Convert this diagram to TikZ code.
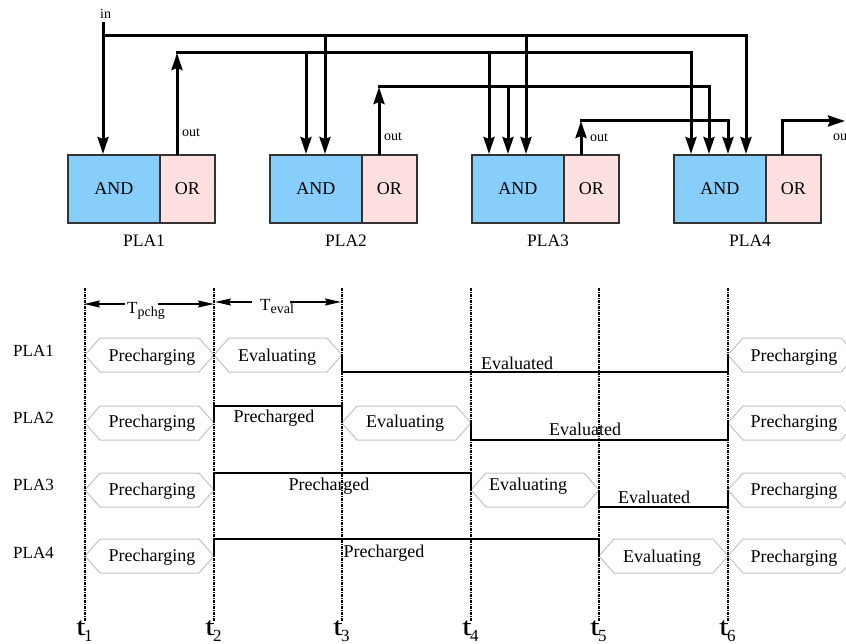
\documentclass[tikz,border=0pt]{standalone}
\usepackage{fontspec}
\setmainfont{Liberation Serif}
\usepackage{graphicx}
\usetikzlibrary{arrows.meta,calc}
\definecolor{andc}{HTML}{87CEFA}
\definecolor{orc}{HTML}{FFE0E0}
\definecolor{edgec}{HTML}{333333}
\definecolor{hexc}{HTML}{C4C4C4}
\newcommand\fs[1]{\fontsize{#1}{#1}\selectfont}
\newcommand\hexseg[3]{\draw[hexa] (#1,#3) -- ({#1+15},{#3-17}) -- ({#2-15},{#3-17}) -- (#2,#3) -- ({#2-15},{#3+17}) -- ({#1+15},{#3+17}) -- cycle;}
\begin{document}
\begin{tikzpicture}[x=1pt,y=-1pt,
 wire/.style={line width=3pt, line join=miter, line cap=rect},
 arr/.style={-{Stealth[length=17pt,width=11pt,inset=2pt]}},
 tarr/.style={-{Stealth[length=16pt,width=7pt,inset=2pt]}},
 blk/.style={draw=edgec, line width=1.6pt, minimum height=68pt, inner sep=0pt, anchor=north west, font=\fs{18}},
 andb/.style={blk, fill=andc, minimum width=92pt},
 orb/.style={blk, fill=orc, minimum width=55pt},
 plab/.style={font=\fs{17.5}, inner sep=0pt, anchor=base},
 rowlab/.style={font=\fs{17}, inner sep=0pt, anchor=base west},
 small/.style={font=\fs{14}, inner sep=0pt, anchor=base west},
 tx/.style={font=\fs{18}, inner sep=0pt, anchor=base},
 tline/.style={line width=1.3pt},
 grid/.style={line width=1.1pt, dash pattern=on 3pt off 1pt on 1pt off 1pt},
 hexa/.style={draw=hexc, line width=1pt, fill=white},
 tbig/.style={font=\fs{26}, inner sep=0pt, anchor=base east},
 tsub/.style={font=\fs{17}, inner sep=0pt, anchor=base west},
]
\useasboundingbox (0,0) rectangle (846,644);
% ---------- PLA blocks ----------
\node[andb] (and1) at (67,154) {AND};
\node[orb]  (or1)  at (159,154) {OR};
\node[andb] (and2) at (269,154) {AND};
\node[orb]  (or2)  at (361,154) {OR};
\node[andb] (and3) at (471,154) {AND};
\node[orb]  (or3)  at (563,154) {OR};
\node[andb] (and4) at (673,154) {AND};
\node[orb]  (or4)  at (765,154) {OR};
\node[plab] (pl1) at (144,247) {PLA1};
\node[plab] (pl2) at (346,247) {PLA2};
\node[plab] (pl3) at (548,247) {PLA3};
\node[plab] (pl4) at (750,247) {PLA4};
% ---------- wiring ----------
\node[small] (inl) at (100,19) {in};
\coordinate (inT) at (103,24);
\coordinate (inC) at (103,36);
\draw[wire,arr] (inT) -- ([xshift=36pt]and1.north west);
\draw[wire,arr] (inC) -| ([xshift=73pt]and4.north west);
\draw[wire,arr] (325,36) -- ([xshift=56pt]and2.north west);
\draw[wire,arr] (526,36) -- ([xshift=55pt]and3.north west);
% out1
\coordinate (c1) at (177,53);
\draw[wire,arr] ([xshift=18pt]or1.north west) -- (c1);
\draw[wire,arr] (c1) -| ([xshift=18pt]and4.north west);
\draw[wire,arr] (306,53) -- ([xshift=37pt]and2.north west);
\draw[wire,arr] (489,53) -- ([xshift=18pt]and3.north west);
% out2
\coordinate (c2) at (379,87);
\draw[wire,arr] ([xshift=18pt]or2.north west) -- (c2);
\draw[wire,arr] (c2) -| ([xshift=36pt]and4.north west);
\draw[wire,arr] (508,87) -- ([xshift=37pt]and3.north west);
% out3
\coordinate (c3) at (581,121);
\draw[wire,arr] ([xshift=18pt]or3.north west) -- (c3);
\draw[wire,arr] (c3) -| ([xshift=55pt]and4.north west);
% out4
\coordinate (c4) at (845,121);
\draw[wire,arr] ([xshift=17pt]or4.north west) |- (c4);
\node[small] (o1) at (182,137) {out};
\node[small] (o2) at (384,141) {out};
\node[small] (o3) at (590,142) {out};
\node[small] (o4) at (833,141) {out};
% ---------- timing: hexagons ----------
\hexseg{85}{214}{355}
\hexseg{214}{342}{355}
\hexseg{728}{856}{355}
\hexseg{85}{214}{423}
\hexseg{342}{471}{423}
\hexseg{728}{856}{423}
\hexseg{85}{214}{490}
\hexseg{471}{599}{490}
\hexseg{728}{856}{490}
\hexseg{85}{214}{556}
\hexseg{599}{728}{556}
\hexseg{728}{856}{556}
% ---------- dashed time lines ----------
\foreach \x in {85,214,342,471,599,728} {\draw[grid] (\x,288) -- (\x,622);}
% ---------- T arrows ----------
\draw[tline,tarr] (125,304) -- (84,304);
\draw[tline,tarr] (158,304) -- (214,304);
\node[inner sep=0pt, anchor=base west, font=\fs{17}] (tp) at (127,313) {T\raisebox{-3pt}{\fs{14}pchg}};
\draw[tline,tarr] (252,302) -- (215,302);
\draw[tline,tarr] (290,302) -- (341,302);
\node[inner sep=0pt, anchor=base west, font=\fs{17}] (te) at (260,311) {T\raisebox{-2pt}{\fs{14}eval}};
% ---------- state lines ----------
\draw[tline] (342,355) -- (342,372) -- (728,372) -- (728,355);
\draw[tline] (214,423) -- (214,406) -- (342,406) -- (342,423);
\draw[tline] (471,423) -- (471,440) -- (728,440) -- (728,423);
\draw[tline] (214,490) -- (214,473) -- (471,473) -- (471,490);
\draw[tline] (599,490) -- (599,507) -- (728,507) -- (728,490);
\draw[tline] (214,556) -- (214,539) -- (599,539) -- (599,556);
% ---------- row labels ----------
\node[rowlab] (r1) at (13,356) {PLA1};
\node[rowlab] (r2) at (13,423) {PLA2};
\node[rowlab] (r3) at (13,490) {PLA3};
\node[rowlab] (r4) at (13,558) {PLA4};
% ---------- state texts ----------
\node[tx] (a1) at (152,361) {Precharging};
\node[tx] (a2) at (277,361) {Evaluating};
\node[tx] (a3) at (517,369) {Evaluated};
\node[tx] (a4) at (794,361) {Precharging};
\node[tx] (b1) at (152,427) {Precharging};
\node[tx] (b2) at (274,422) {Precharged};
\node[tx] (b3) at (405,427) {Evaluating};
\node[tx] (b4) at (585,435) {Evaluated};
\node[tx] (b5) at (794,427) {Precharging};
\node[tx] (d1) at (152,495) {Precharging};
\node[tx] (d2) at (329,490) {Precharged};
\node[tx] (d3) at (528,490) {Evaluating};
\node[tx] (d4) at (654,503) {Evaluated};
\node[tx] (d5) at (794,495) {Precharging};
\node[tx] (e1) at (152,561) {Precharging};
\node[tx] (e2) at (384,557) {Precharged};
\node[tx] (e3) at (662,562) {Evaluating};
\node[tx] (e4) at (794,562) {Precharging};
% ---------- time labels ----------
\foreach \x/\n in {86/1,215/2,343/3,472/4,600/5,729/6} {
  \node[tbig] (t\n) at (\x,635) {\scalebox{1.35}[1]{t}};
  \node[tsub] (s\n) at ({\x-2},641) {\n};
}
\end{tikzpicture}
\end{document}
